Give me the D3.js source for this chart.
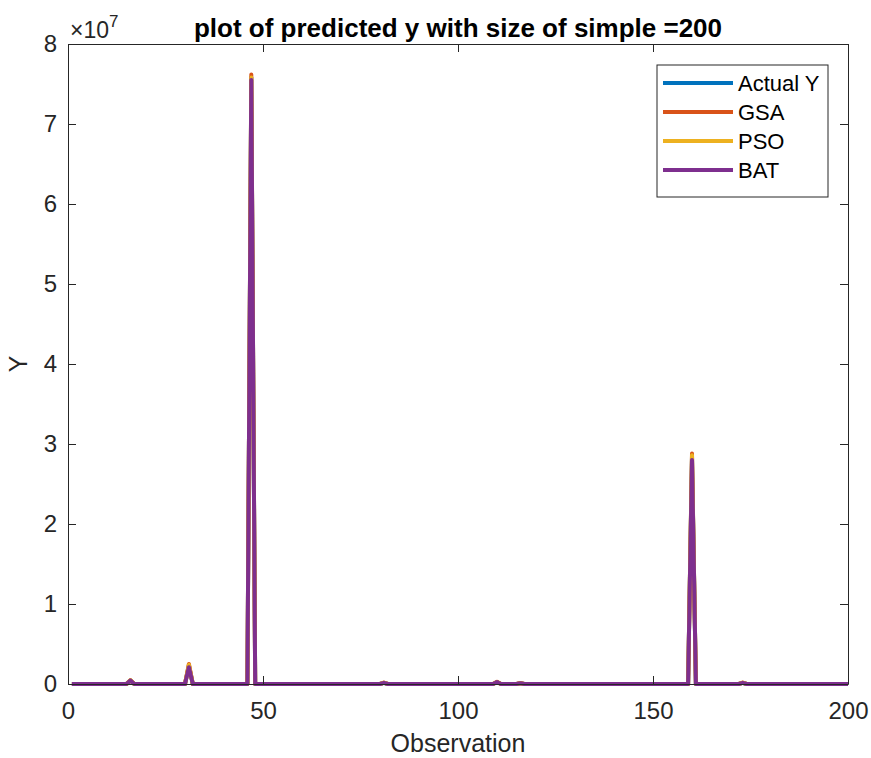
<!DOCTYPE html>
<html>
<head>
<meta charset="utf-8">
<script src="https://cdn.jsdelivr.net/npm/d3@7/dist/d3.min.js"></script>
<style>
body{margin:0;background:#fff;}
text{font-family:"Liberation Sans",Arial,Helvetica,sans-serif;}
</style>
</head>
<body>
<svg id="chart" width="871" height="758"></svg>
<script>
// observation numbers where the series change (flat near zero in between)
var observations=[1,15,16,17,30,31,32,46,47,48,80,81,82,109,110,111,115,116,117,159,160,161,172,173,174,200];
var actualY=[0,0,4.5e5,0,0,2.3e6,0,0,7.58e7,0,0,1.5e5,0,0,2.5e5,0,0,1e5,0,0,2.84e7,0,0,1.5e5,0,0];
var gsaY=   [0,0,4.8e5,0,0,2.5e6,0,0,7.62e7,0,0,1.8e5,0,0,2.8e5,0,0,1.2e5,0,0,2.88e7,0,0,1.8e5,0,0];
var psoY=   [0,0,4.6e5,0,0,2.4e6,0,0,7.58e7,0,0,1.6e5,0,0,2.6e5,0,0,1e5,0,0,2.86e7,0,0,1.6e5,0,0];
var batY=   [0,0,4.2e5,0,0,2.1e6,0,0,7.55e7,0,0,1.4e5,0,0,2.4e5,0,0,1e5,0,0,2.8e7,0,0,1.4e5,0,0];
var seriesNames=["Actual Y","GSA","PSO","BAT"];
var seriesColors=["#0072BD","#D95319","#EDB120","#7E2F8E"];
var xTicks=[0,50,100,150,200];
var yTicks=[0,1,2,3,4,5,6,7,8];

var svg=d3.select("#chart");
var margin={left:68,top:44,right:23,bottom:74};
var width=871-margin.left-margin.right,
    height=758-margin.top-margin.bottom;
var axisColor="#262626";

var x=d3.scaleLinear().domain([0,200]).range([0,width]);
var y=d3.scaleLinear().domain([0,8e7]).range([height,0]);

var g=svg.append("g").attr("transform","translate("+margin.left+","+margin.top+")");

//lines
var allSeries=[actualY,gsaY,psoY,batY];
var line=d3.line()
    .x(function(d){return x(d[0])})
    .y(function(d){return y(d[1])});
allSeries.forEach(function(vals,i){
    g.append("path")
        .datum(observations.map(function(o,j){return [o,vals[j]]}))
        .attr("fill","none")
        .attr("stroke",seriesColors[i])
        .attr("stroke-width",4)
        .attr("stroke-linejoin","round")
        .attr("d",line);
});

//axes with inward ticks
var tickLen=8;
var xAxis=d3.axisBottom(x).tickValues(xTicks).tickSizeInner(-tickLen).tickSizeOuter(0).tickPadding(18);
var yAxis=d3.axisLeft(y).tickValues(yTicks.map(function(t){return t*1e7})).tickFormat(function(d){return d/1e7}).tickSizeInner(-tickLen).tickSizeOuter(0).tickPadding(11);
var xTop=d3.axisTop(x).tickValues(xTicks).tickSizeInner(-tickLen).tickSizeOuter(0).tickFormat("");
var yRight=d3.axisRight(y).tickValues(yTicks.map(function(t){return t*1e7})).tickSizeInner(-tickLen).tickSizeOuter(0).tickFormat("");

function styleAxis(sel){
    sel.selectAll("path").attr("stroke",axisColor).attr("stroke-width",1);
    sel.selectAll("line").attr("stroke",axisColor).attr("stroke-width",1);
    sel.selectAll("text").attr("fill",axisColor).style("font-size","24px").style("font-family","'Liberation Sans',Arial,sans-serif");
}
styleAxis(g.append("g").attr("transform","translate(0,"+height+")").call(xAxis));
styleAxis(g.append("g").call(yAxis));
styleAxis(g.append("g").call(xTop));
styleAxis(g.append("g").attr("transform","translate("+width+",0)").call(yRight));

//exponent label
var ex=svg.append("text").attr("x",70).attr("y",38).attr("fill",axisColor).style("font-size","23px");
ex.append("tspan").text("\u00d710");
ex.append("tspan").attr("dy",-11).style("font-size","17px").text("7");

//title
svg.append("text").attr("x",margin.left+width/2).attr("y",37).attr("text-anchor","middle")
    .attr("fill","#000").style("font-size","26px").style("font-weight","bold")
    .text("plot of predicted y with size of simple =200");

//axis labels
svg.append("text").attr("x",margin.left+width/2).attr("y",752).attr("text-anchor","middle")
    .attr("fill",axisColor).style("font-size","25px").text("Observation");
svg.append("text").attr("transform","translate(27,"+(margin.top+height/2)+") rotate(-90)").attr("text-anchor","middle")
    .attr("fill",axisColor).style("font-size","25px").text("Y");

//legend
var leg=svg.append("g").attr("transform","translate(657,65)");
leg.append("rect").attr("width",171).attr("height",132).attr("fill","#fff").attr("stroke",axisColor).attr("stroke-width",1);
seriesNames.forEach(function(name,i){
    var ly=18+i*29;
    leg.append("line").attr("x1",6).attr("x2",76).attr("y1",ly).attr("y2",ly)
        .attr("stroke",seriesColors[i]).attr("stroke-width",4);
    leg.append("text").attr("x",81).attr("y",ly+8).attr("fill","#000").style("font-size","22px").text(name);
});
</script>
</body>
</html>
